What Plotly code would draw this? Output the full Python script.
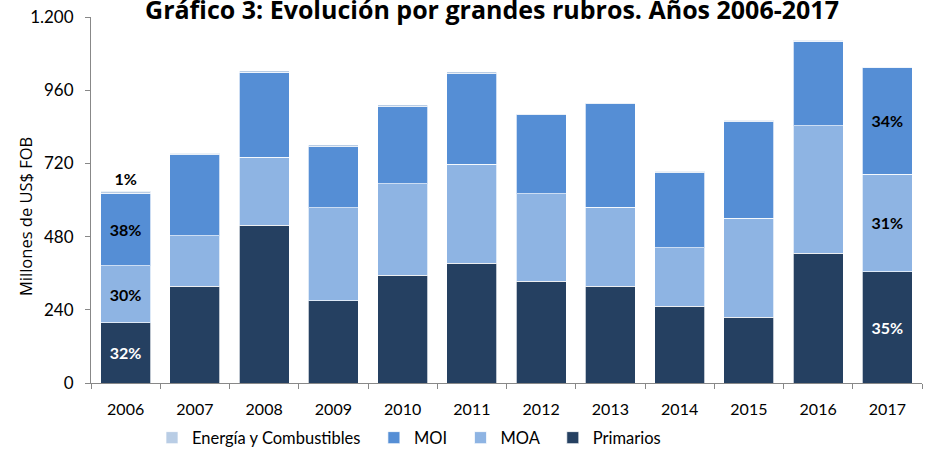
import plotly.graph_objects as go

years = ["2006", "2007", "2008", "2009", "2010", "2011", "2012", "2013", "2014", "2015", "2016", "2017"]
primarios = [198, 318, 518, 269, 354, 393, 334, 318, 252, 215, 426, 365]
moa = [187, 164, 222, 305, 299, 325, 287, 259, 191, 326, 417, 320]
moi = [237, 266, 279, 201, 253, 296, 258, 339, 246, 315, 278, 350]
energia = [6, 6, 5, 6, 6, 6, 2, 3, 6, 6, 2, 2]

lbl_prim = ["32%", "", "", "", "", "", "", "", "", "", "", "35%"]
lbl_moa = ["30%", "", "", "", "", "", "", "", "", "", "", "31%"]
lbl_moi = ["38%", "", "", "", "", "", "", "", "", "", "", "34%"]
lbl_ene = ["1%", "", "", "", "", "", "", "", "", "", "", ""]

yticks = [0, 240, 480, 720, 960, 1200]

FONT = "Lato"
line = dict(color="rgba(255,255,255,0.7)", width=1)
SP = "\u00a0" * 2

W, H = 926, 453
L, R, T, B = 91, 4, 17, 70
PW, PH = W - L - R, H - T - B

fig = go.Figure()
fig.add_bar(x=years, y=primarios, name="Primarios", marker=dict(color="#254061", line=line),
            text=lbl_prim, textposition="inside", insidetextanchor="middle",
            textfont=dict(color="white", size=16, family=FONT, weight="bold"))
fig.add_bar(x=years, y=moa, name="MOA" + SP, marker=dict(color="#8EB4E3", line=line),
            text=lbl_moa, textposition="inside", insidetextanchor="middle",
            textfont=dict(color="black", size=16, family=FONT, weight="bold"))
fig.add_bar(x=years, y=moi, name="MOI" + SP, marker=dict(color="#558ED5", line=line),
            text=lbl_moi, textposition="inside", insidetextanchor="middle",
            textfont=dict(color="black", size=16, family=FONT, weight="bold"))
fig.add_bar(x=years, y=energia, name="Energía y Combustibles" + SP, marker=dict(color="#B9CDE5", line=line),
            text=lbl_ene, textposition="outside", cliponaxis=False,
            textfont=dict(color="black", size=16, family=FONT, weight="bold"))

fig.add_annotation(text="Millones de US$ FOB", textangle=-90,
                   xref="paper", yref="paper", x=(26 - L) / PW, y=(H - B - 217) / PH,
                   xanchor="center", yanchor="middle", showarrow=False,
                   font=dict(size=16.5, family="Open Sans", color="black"))

fig.update_layout(
    width=W, height=H,
    barmode="stack", bargap=0.28,
    separators=",.",
    paper_bgcolor="white", plot_bgcolor="white",
    margin=dict(l=L, r=R, t=T, b=B, autoexpand=False),
    font=dict(family=FONT, color="black", size=16),
    title=dict(text="<b>Gráfico 3: Evolución por grandes rubros. Años 2006-2017</b>",
               x=492 / W, xanchor="center", y=1 - 10 / H, yanchor="middle",
               font=dict(size=25, family="Open Sans", color="black")),
    legend=dict(orientation="h", x=(152 - L) / PW, xanchor="left", y=-0.15, yanchor="middle",
                traceorder="reversed", font=dict(size=16.5, family=FONT),
                itemwidth=30, bgcolor="rgba(0,0,0,0)"),
    xaxis=dict(type="category", showline=True, linecolor="#888888", linewidth=1,
               ticks="outside", tickson="boundaries", ticklen=5, tickcolor="#888888",
               ticklabelstandoff=12,
               tickfont=dict(size=16, family=FONT), showgrid=False),
    yaxis=dict(range=[0, 1200], tickvals=yticks, tickformat=",d",
               showline=True, linecolor="#888888", linewidth=1,
               ticks="outside", ticklen=5, tickcolor="#888888",
               ticklabelstandoff=8, ticklabeloverflow="allow",
               tickfont=dict(size=17, family=FONT), showgrid=False, zeroline=False),
)

fig.write_html("out.html", config={"displayModeBar": False},
               post_script="document.body.style.margin='0';")
